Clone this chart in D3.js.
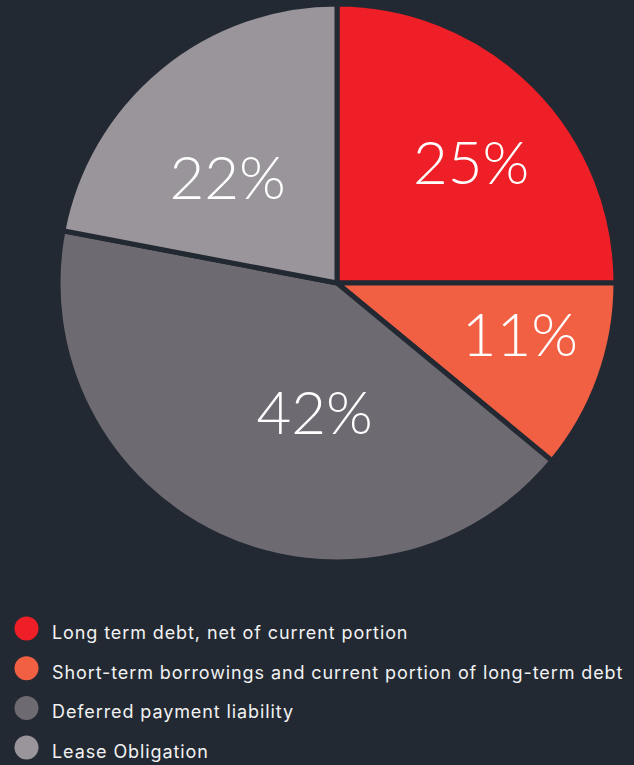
<!DOCTYPE html>
<html>
<head>
<meta charset="utf-8">
<script src="https://cdn.jsdelivr.net/npm/d3@7"></script>
<style>
  html, body { margin: 0; padding: 0; background: #232932; }
  svg { display: block; }
</style>
</head>
<body>
<svg></svg>
<script>
var w = 634, h = 765

// data
var categories = [
    "Long term debt, net of current portion",
    "Short-term borrowings and current portion of long-term debt",
    "Deferred payment liability",
    "Lease Obligation"
]
var values = [25, 11, 42, 22]
var labels = ["25%", "11%", "42%", "22%"]
var colors = ["#ee1f26", "#f26044", "#6e6a71", "#9a959a"]

// label nudges (pixels) from arc centroid, layout only
var labelNudge = [[14, -2], [23, -8], [50, -26], [-1, 24]]

var svg = d3.select("svg")
    .attr("width", w)
    .attr("height", h)

svg.append("rect")
    .attr("width", w)
    .attr("height", h)
    .attr("fill", "#232932")

var cx = 337, cy = 283, r = 279

var pie = d3.pie().sort(null).value(function(d) { return d })
var arc = d3.arc().innerRadius(0).outerRadius(r)
var labelArc = d3.arc().innerRadius(170).outerRadius(170)

var g = svg.append("g")
    .attr("transform", "translate(" + cx + "," + cy + ")")

var arcs = pie(values)

g.selectAll("path.slice")
    .data(arcs)
    .enter().append("path")
    .attr("class", "slice")
    .attr("d", arc)
    .attr("fill", function(d, i) { return colors[i] })
    .attr("stroke", "#232932")
    .attr("stroke-width", 5)
    .attr("stroke-linejoin", "miter")

g.selectAll("text.pct")
    .data(arcs)
    .enter().append("text")
    .attr("class", "pct")
    .attr("x", function(d, i) { return labelArc.centroid(d)[0] + labelNudge[i][0] })
    .attr("y", function(d, i) { return labelArc.centroid(d)[1] + labelNudge[i][1] })
    .attr("text-anchor", "middle")
    .attr("dominant-baseline", "central")
    .attr("fill", "#ffffff")
    .attr("font-family", "Lato, 'Open Sans', sans-serif")
    .attr("font-weight", 300)
    .attr("font-size", 60)
    .text(function(d, i) { return labels[i] })

// legend
var legend = svg.append("g")
    .attr("transform", "translate(0, 628.5)")

var row = legend.selectAll("g.row")
    .data(categories)
    .enter().append("g")
    .attr("class", "row")
    .attr("transform", function(d, i) { return "translate(0," + (i * 39.7) + ")" })

row.append("circle")
    .attr("cx", 26.5)
    .attr("cy", 0)
    .attr("r", 12)
    .attr("fill", function(d, i) { return colors[i] })

row.append("text")
    .attr("x", 52)
    .attr("y", 10.5)
    .attr("fill", "#f2f2f2")
    .attr("font-family", "Inter, 'Noto Sans', sans-serif")
    .attr("font-size", 18)
    .attr("letter-spacing", 0.9)
    .text(function(d) { return d })
</script>
</body>
</html>
